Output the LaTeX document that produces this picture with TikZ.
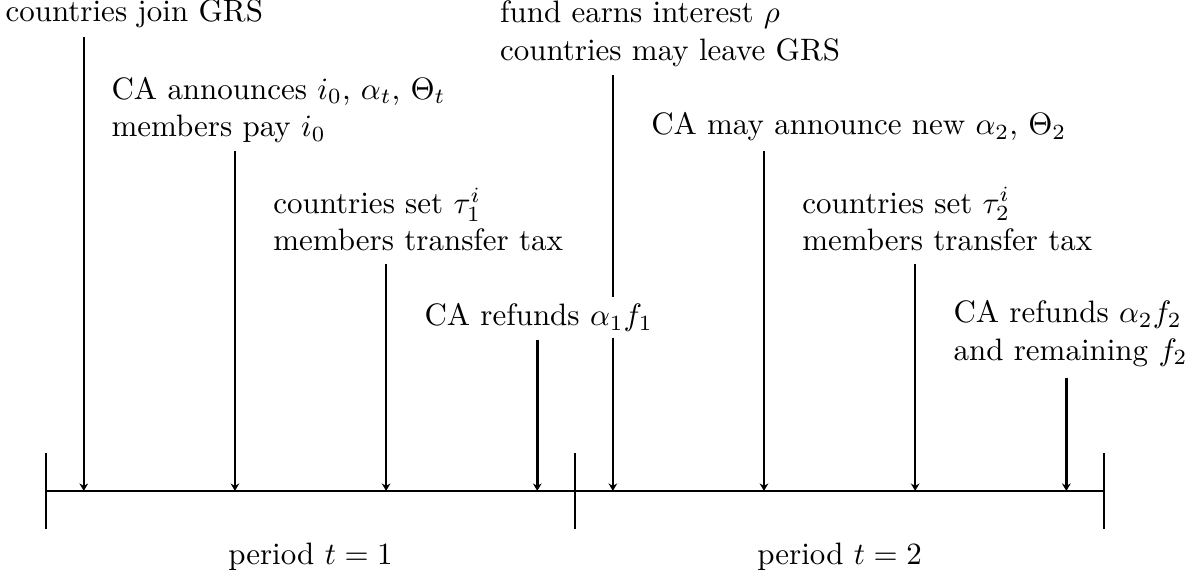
\documentclass[tikz,border=0pt]{standalone}
\usepackage{tikz}
\usetikzlibrary{arrows.meta}
\usepackage{amsmath,amssymb}

\begin{document}
\begin{tikzpicture}[x=0.4287cm,y=0.4287cm,>={Stealth[length=2.4pt,width=2.8pt]},
  tline/.style={line width=0.8pt},
  tick/.style={line width=0.7pt},
  ev/.style={line width=0.8pt,->},
  lbl/.style={anchor=base west,inner xsep=0pt,inner ysep=2pt,fill=white,align=left}]
  \useasboundingbox (-1.217,-2.38) rectangle (30.59,12.99);
  % time line and period ticks
  \coordinate (t0) at (0,0);
  \coordinate (t1) at (14,0);
  \coordinate (t2) at (28,0);
  \draw[tline] (t0)--(t2);
  \foreach \t in {t0,t1,t2} \draw[tick] (\t) ++(0,-1) -- ++(0,2);
  % event points: top of arrow / point on time line
  \foreach \n/\x/\h in {1/1/12,2/5/9,3/9/6,4/13/4,5/15/11,6/19/9,7/23/6,8/27/3}{
    \coordinate (s\n) at (\x,\h);
    \coordinate (e\n) at (\x,0);
  }
  \foreach \n in {1,...,8} \draw[ev] (s\n)--(e\n);
  % labels (base = last line)
  \node[lbl] (l1) at (-1.085,12.41) {countries join GRS};
  \node[lbl] (l2) at (1.72,9.38) {CA announces $i_0$, $\alpha_t$, $\Theta_t$\\members pay $i_0$};
  \node[lbl] (l3) at (6,6.35) {countries set $\tau_1^i$\\members transfer tax};
  \node[lbl] (l4) at (10,4.37) {CA refunds $\alpha_1 f_1$};
  \node[lbl] (l5) at (12,11.4) {fund earns interest $\rho$\\countries may leave GRS};
  \node[lbl] (l6) at (16,9.42) {CA may announce new $\alpha_2$, $\Theta_2$};
  \node[lbl] (l7) at (20,6.37) {countries set $\tau_2^i$\\members transfer tax};
  \node[lbl] (l8) at (24,3.46) {CA refunds $\alpha_2 f_2$\\and remaining $f_2$};
  % periods
  \node[anchor=base] (p1) at (7,-1.96) {period $t=1$};
  \node[anchor=base] (p2) at (21,-1.96) {period $t=2$};
\end{tikzpicture}
\end{document}
